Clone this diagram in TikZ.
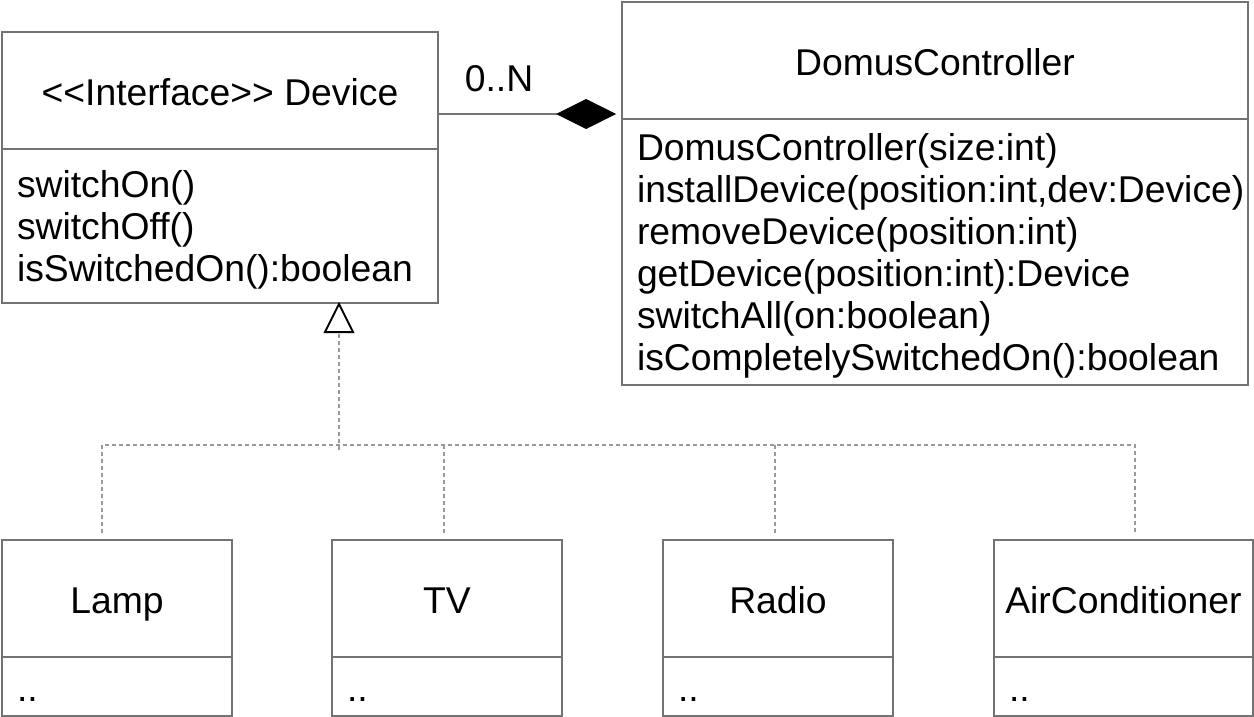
\documentclass[tikz,border=0pt]{standalone}
\usepackage{fontspec}
\setmainfont{Liberation Sans}
\usetikzlibrary{arrows.meta}
\newcommand{\firstline}{\rule{0pt}{35pt}}
\begin{document}
\begin{tikzpicture}[x=1pt,y=-1pt,
  box/.style={draw=black!55, line width=1.3pt, inner sep=0pt, outer sep=0pt, anchor=north west, font=\fontsize{37.3}{42}\selectfont},
  titlebox/.style={box, align=center, minimum height=117pt, text height=36pt, text depth=6pt},
  bodybox/.style={box, align=left, inner xsep=15pt, inner ysep=0pt},
  dep/.style={draw=black!40, line width=1.3pt, dash pattern=on 4pt off 3pt},
  assoc/.style={draw=black!55, line width=1.3pt}]
\useasboundingbox (0,0) rectangle (1254,717);

% Device
\node[titlebox, minimum width=436pt] (devT) at (2,32) {<{}<Interface>{}> Device};
\node[bodybox, text width=406pt, minimum height=154pt] (devB) at (2,149) {\firstline switchOn()\\switchOff()\\isSwitchedOn():boolean};

% DomusController
\node[titlebox, minimum width=626pt] (domT) at (622,2) {DomusController};
\node[bodybox, text width=596pt, minimum height=266pt] (domB) at (622,119) {\firstline DomusController(size:int)\\installDevice(position:int,dev:Device)\\removeDevice(position:int)\\getDevice(position:int):Device\\switchAll(on:boolean)\\isCompletelySwitchedOn():boolean};

% Subclasses
\node[titlebox, minimum width=230pt] (lampT) at (2,540) {Lamp};
\node[bodybox, text width=200pt, minimum height=59pt, text height=29pt, text depth=0pt] (lampB) at (2,657) {..};
\node[titlebox, minimum width=230pt] (tvT) at (332,540) {TV};
\node[bodybox, text width=200pt, minimum height=59pt, text height=29pt, text depth=0pt] (tvB) at (332,657) {..};
\node[titlebox, minimum width=230pt] (radioT) at (663,540) {Radio};
\node[bodybox, text width=200pt, minimum height=59pt, text height=29pt, text depth=0pt] (radioB) at (663,657) {..};
\node[titlebox, minimum width=259pt] (acT) at (994,540) {AirConditioner};
\node[bodybox, text width=229pt, minimum height=59pt, text height=29pt, text depth=0pt] (acB) at (994,657) {..};

% Composition
\coordinate (dtip) at (616,114);
\draw[assoc, -{Diamond[length=60pt,width=30pt,color=black]}] ([yshift=35pt]devT.south east) -- (dtip);
\node[font=\fontsize{37.3}{42}\selectfont, inner sep=0pt] (mult) at (499,79) {0..N};

% Realization
\coordinate (apex) at (339,304);
\coordinate (triL) at (325,332);
\coordinate (triR) at (353,332);
\coordinate (triB) at (339,332);
\coordinate (bus) at (339,450);
\draw[dep] (bus) -- (triB);
\draw[dep] ([xshift=-15pt,yshift=7pt]lampT.north) -- ++(0,-88) -| ([xshift=11.5pt,yshift=7pt]acT.north);
\draw[dep] ([xshift=-3pt,yshift=7pt]tvT.north) -- ++(0,-88);
\draw[dep] ([xshift=-3pt,yshift=7pt]radioT.north) -- ++(0,-88);
\draw[black, line width=2pt, fill=white] (apex) -- (triL) -- (triR) -- cycle;
\end{tikzpicture}
\end{document}
